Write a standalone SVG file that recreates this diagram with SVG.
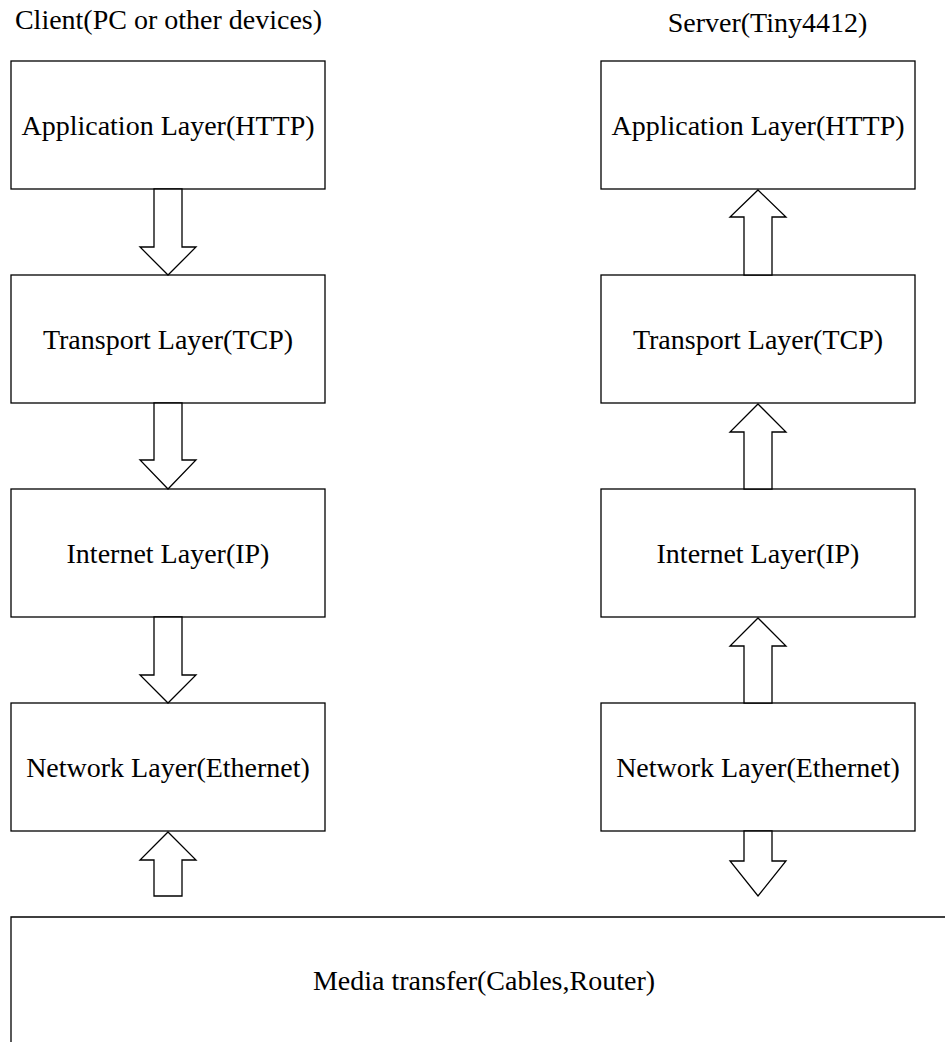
<svg xmlns="http://www.w3.org/2000/svg" width="945" height="1042" viewBox="0 0 945 1042">
  <style>
    .box { fill: #fff; stroke: #000; stroke-width: 1.3; }
    .arrow { fill: #fff; stroke: #000; stroke-width: 1.3; stroke-linejoin: miter; }
    .label { font-family: "Liberation Serif", "Times New Roman", serif; font-size: 28px; fill: #000; text-anchor: middle; }
  </style>
  <rect width="945" height="1042" fill="#fff"/>

  <!-- column titles -->
  <text class="label" x="168.5" y="29">Client(PC or other devices)</text>
  <text class="label" x="767.5" y="32">Server(Tiny4412)</text>

  <!-- client stack -->
  <g id="client-app">
    <rect class="box" x="11" y="61" width="314" height="128"/>
    <text class="label" x="168" y="135">Application Layer(HTTP)</text>
  </g>
  <g id="client-transport">
    <rect class="box" x="11" y="275" width="314" height="128"/>
    <text class="label" x="168" y="349">Transport Layer(TCP)</text>
  </g>
  <g id="client-internet">
    <rect class="box" x="11" y="489" width="314" height="128"/>
    <text class="label" x="168" y="563">Internet Layer(IP)</text>
  </g>
  <g id="client-network">
    <rect class="box" x="11" y="703" width="314" height="128"/>
    <text class="label" x="168" y="777">Network Layer(Ethernet)</text>
  </g>

  <!-- server stack -->
  <g id="server-app">
    <rect class="box" x="601" y="61" width="314" height="128"/>
    <text class="label" x="758" y="135">Application Layer(HTTP)</text>
  </g>
  <g id="server-transport">
    <rect class="box" x="601" y="275" width="314" height="128"/>
    <text class="label" x="758" y="349">Transport Layer(TCP)</text>
  </g>
  <g id="server-internet">
    <rect class="box" x="601" y="489" width="314" height="128"/>
    <text class="label" x="758" y="563">Internet Layer(IP)</text>
  </g>
  <g id="server-network">
    <rect class="box" x="601" y="703" width="314" height="128"/>
    <text class="label" x="758" y="777">Network Layer(Ethernet)</text>
  </g>

  <!-- shared medium, open to the right and bottom -->
  <g id="media">
    <path d="M11,1042 V917 H946" fill="none" stroke="#000" stroke-width="1.3"/>
    <text class="label" x="484" y="990">Media transfer(Cables,Router)</text>
  </g>

  <!-- block arrows between layers -->
  <g id="connectors">
    <!-- client: downwards -->
    <path class="arrow" d="M154,189 H182 V247 H196 L168,275 L140,247 H154 Z"/>
    <path class="arrow" d="M154,403 H182 V460 H196 L168,489 L140,460 H154 Z"/>
    <path class="arrow" d="M154,617 H182 V675 H196 L168,703 L140,675 H154 Z"/>
    <!-- client: up from media -->
    <path class="arrow" d="M168,832 L196,860 H182 V896 H154 V860 H140 Z"/>
    <!-- server: upwards -->
    <path class="arrow" d="M758,190 L786,217 H772 V275 H744 V217 H730 Z"/>
    <path class="arrow" d="M758,404 L786,432 H772 V489 H744 V432 H730 Z"/>
    <path class="arrow" d="M758,618 L786,646 H772 V703 H744 V646 H730 Z"/>
    <!-- server: down into media -->
    <path class="arrow" d="M744,831 H772 V861 H786 L758,896 L730,861 H744 Z"/>
  </g>
</svg>
